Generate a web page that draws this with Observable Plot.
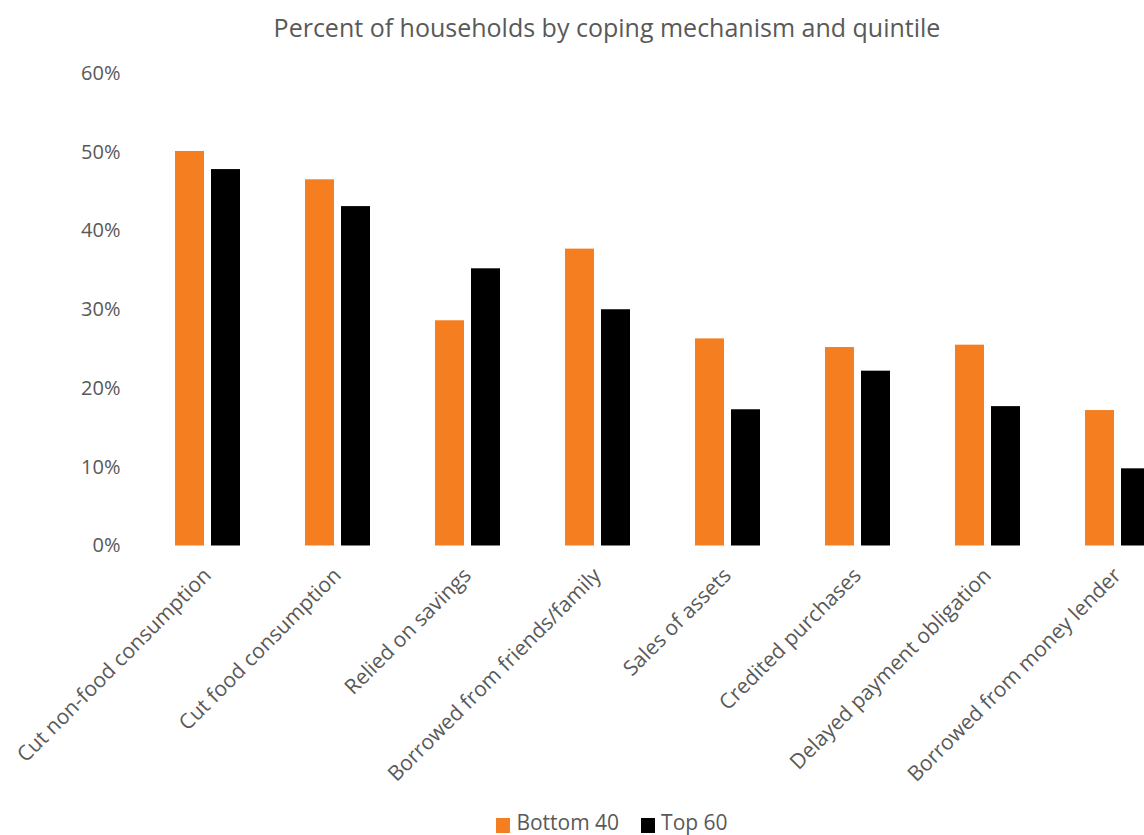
<!DOCTYPE html>
<html>
<head>
<meta charset="utf-8">
<script src="https://cdn.jsdelivr.net/npm/d3@7"></script>
<script src="https://cdn.jsdelivr.net/npm/@observablehq/plot@0.6"></script>
<style>
  html, body { margin: 0; padding: 0; background: #fff; overflow: hidden; }
  #wrap { position: relative; width: 1144px; height: 835px; overflow: hidden; font-family: "Open Sans", sans-serif; color: #595959; }
  #title { position: absolute; left: 0; top: 10px; width: 1214px; text-align: center; font-size: 25px; line-height: 34px; white-space: nowrap; }
  #chart { position: absolute; left: 0; top: 0; width: 1184px; }
  #chart svg { max-width: none !important; }
  #legend { position: absolute; top: 811px; left: 40px; width: 1144px; display: flex; justify-content: center; font-size: 21px; line-height: 22px; }
  .item { display: flex; align-items: center; margin: 0 11px; }
  .sw { width: 14px; height: 15px; margin-right: 6px; margin-top: 6px; }
</style>
</head>
<body>
<div id="wrap">
  <div id="chart"></div>
  <div id="title">Percent of households by coping mechanism and quintile</div>
  <div id="legend"></div>
</div>
<script>
const categories = [
  "Cut non-food consumption",
  "Cut food consumption",
  "Relied on savings",
  "Borrowed from friends/family",
  "Sales of assets",
  "Credited purchases",
  "Delayed payment obligation",
  "Borrowed from money lender"
];
const seriesNames = ["Bottom 40", "Top 60"];
const bottom40 = [50.1, 46.5, 28.6, 37.7, 26.3, 25.2, 25.5, 17.2];
const top60 = [47.8, 43.1, 35.2, 30.0, 17.3, 22.2, 17.7, 9.8];
const yTicks = [0, 10, 20, 30, 40, 50, 60];
const colors = ["#F47E20", "#000000"];

const data = categories.flatMap((c, i) => [
  {category: c, series: seriesNames[0], value: bottom40[i]},
  {category: c, series: seriesNames[1], value: top60[i]}
]);

const chart = Plot.plot({
  width: 1184,
  height: 780,
  marginLeft: 140,
  marginRight: 0,
  marginTop: 73,
  marginBottom: 234.5,
  style: {fontFamily: "Open Sans", color: "#595959", background: "transparent", overflow: "visible", maxWidth: "none"},
  fx: {domain: categories, paddingInner: 0, paddingOuter: 0},
  x: {domain: seriesNames, paddingInner: 0.2027, paddingOuter: 0.865, axis: null},
  y: {domain: [0, 60]},
  color: {domain: seriesNames, range: colors},
  marks: [
    Plot.axisY({ticks: yTicks, tickFormat: d => d + "%", tickSize: 0, tickPadding: 22, label: null, fontSize: 20, fill: "#595959"}),
    Plot.axisFx({anchor: "bottom", tickRotate: -45, tickSize: 0, tickPadding: 26, label: null, fontSize: 21, fill: "#595959"}),
    Plot.barY(data, {fx: "category", x: "series", y: "value", fill: "series"})
  ]
});
document.getElementById("chart").appendChild(chart);

const legend = document.getElementById("legend");
seriesNames.forEach((s, i) => {
  const item = document.createElement("div");
  item.className = "item";
  const sw = document.createElement("div");
  sw.className = "sw";
  sw.style.background = colors[i];
  const t = document.createElement("span");
  t.textContent = s;
  item.appendChild(sw);
  item.appendChild(t);
  legend.appendChild(item);
});
</script>
</body>
</html>
